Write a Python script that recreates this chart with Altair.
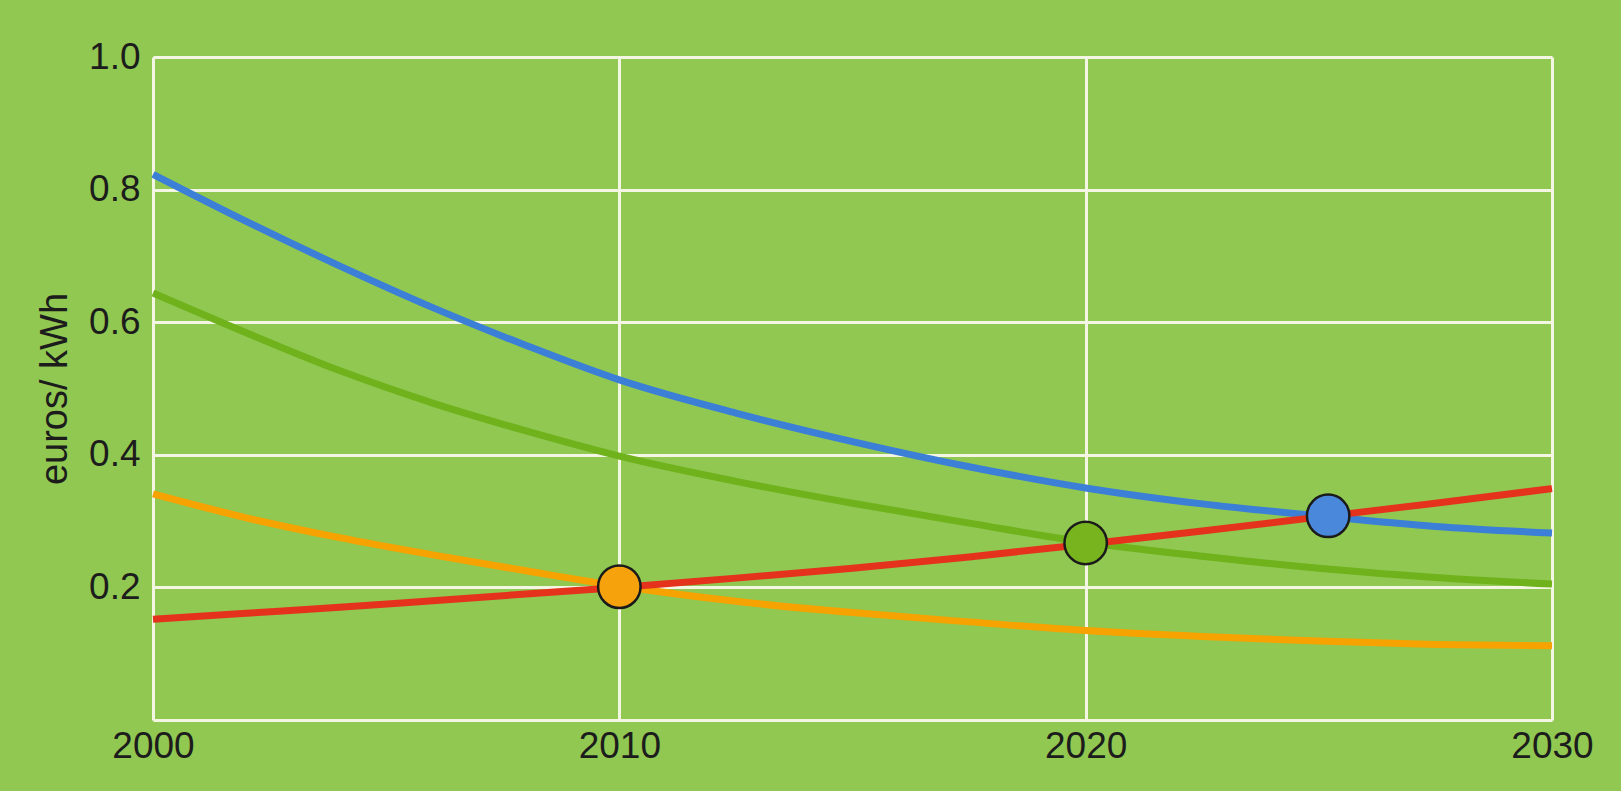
import altair as alt
import pandas as pd

# ---- data ----
years = [2000, 2002, 2004, 2006, 2008, 2010, 2012.5, 2015, 2017.5, 2020, 2022.5, 2025, 2027.5, 2030]
blue = [0.823, 0.752, 0.685, 0.622, 0.565, 0.513, 0.463, 0.420, 0.382, 0.350, 0.326, 0.308, 0.292, 0.282]
green = [0.644, 0.584, 0.527, 0.478, 0.436, 0.398, 0.360, 0.327, 0.297, 0.268, 0.247, 0.229, 0.215, 0.205]
orange = [0.341, 0.305, 0.275, 0.249, 0.225, 0.202, 0.179, 0.162, 0.148, 0.135, 0.126, 0.119, 0.114, 0.112]
red = [0.152, 0.161, 0.170, 0.180, 0.190, 0.200, 0.214, 0.229, 0.246, 0.265, 0.285, 0.306, 0.327, 0.349]

series_names = ["blue", "green", "orange", "red"]
series_colors = ["#3c7fd6", "#6fb21c", "#f6a300", "#e5321c"]

dot_years = [2010, 2020, 2025.2]
dot_values = [0.201, 0.267, 0.308]
dot_fills = ["#f6a20c", "#78b41e", "#4a88dc"]

x_ticks = [2000, 2010, 2020, 2030]
y_ticks = [0, 0.2, 0.4, 0.6, 0.8, 1.0]
y_title = "euros/ kWh"

# ---- build tables ----
rows = []
for name, vals in zip(series_names, [blue, green, orange, red]):
    for yr, v in zip(years, vals):
        rows.append({"year": yr, "value": v, "series": name})
lines_df = pd.DataFrame(rows)
dots_df = pd.DataFrame({"year": dot_years, "value": dot_values, "fill": dot_fills})

FONT = "Liberation Sans"
GRID = "#f4f6e4"
TEXT = "#1c1c1c"

x_enc = alt.X(
    "year:Q",
    scale=alt.Scale(domain=[2000, 2030], nice=False, zero=False),
    axis=alt.Axis(
        values=x_ticks, format="d", title=None, grid=True, gridColor=GRID,
        gridWidth=3, domain=False, ticks=False, labelFontSize=37,
        labelFont=FONT, labelColor=TEXT, labelPadding=8,
        labelFlush=False, labelOverlap=False,
    ),
)
y_enc = alt.Y(
    "value:Q",
    scale=alt.Scale(domain=[0, 1], nice=False),
    axis=alt.Axis(
        values=y_ticks, title=y_title, grid=True, gridColor=GRID,
        gridWidth=3, domain=False, ticks=False, labelFontSize=37,
        labelFont=FONT, labelColor=TEXT, labelPadding=13,
        labelExpr="datum.value == 0 ? '' : format(datum.value, '.1f')",
        titleFont=FONT, titleFontSize=38, titleFontWeight="normal",
        titleColor=TEXT, titleX=-98, titleBaseline="middle",
        titleAlign="center", labelOverlap=False,
    ),
)

lines = alt.Chart(lines_df).mark_line(
    strokeWidth=7, interpolate="monotone"
).encode(
    x=x_enc,
    y=y_enc,
    color=alt.Color("series:N", scale=alt.Scale(domain=series_names, range=series_colors), legend=None),
    order=alt.Order("year:Q"),
)

dots = alt.Chart(dots_df).mark_circle(
    size=1800, opacity=1, stroke="#1a1a1a", strokeWidth=2.5
).encode(
    x=alt.X("year:Q"),
    y=alt.Y("value:Q"),
    fill=alt.Fill("fill:N", scale=None),
)

chart = (
    alt.layer(lines, dots)
    .properties(
        width=1399, height=663,
        autosize=alt.AutoSizeParams(type="none"),
        padding={"left": 153, "top": 57, "right": 69, "bottom": 71},
        background="#90c851",
    )
    .configure_view(stroke=None)
)

chart.save("out.html", embed_options={"renderer": "svg", "actions": False})
